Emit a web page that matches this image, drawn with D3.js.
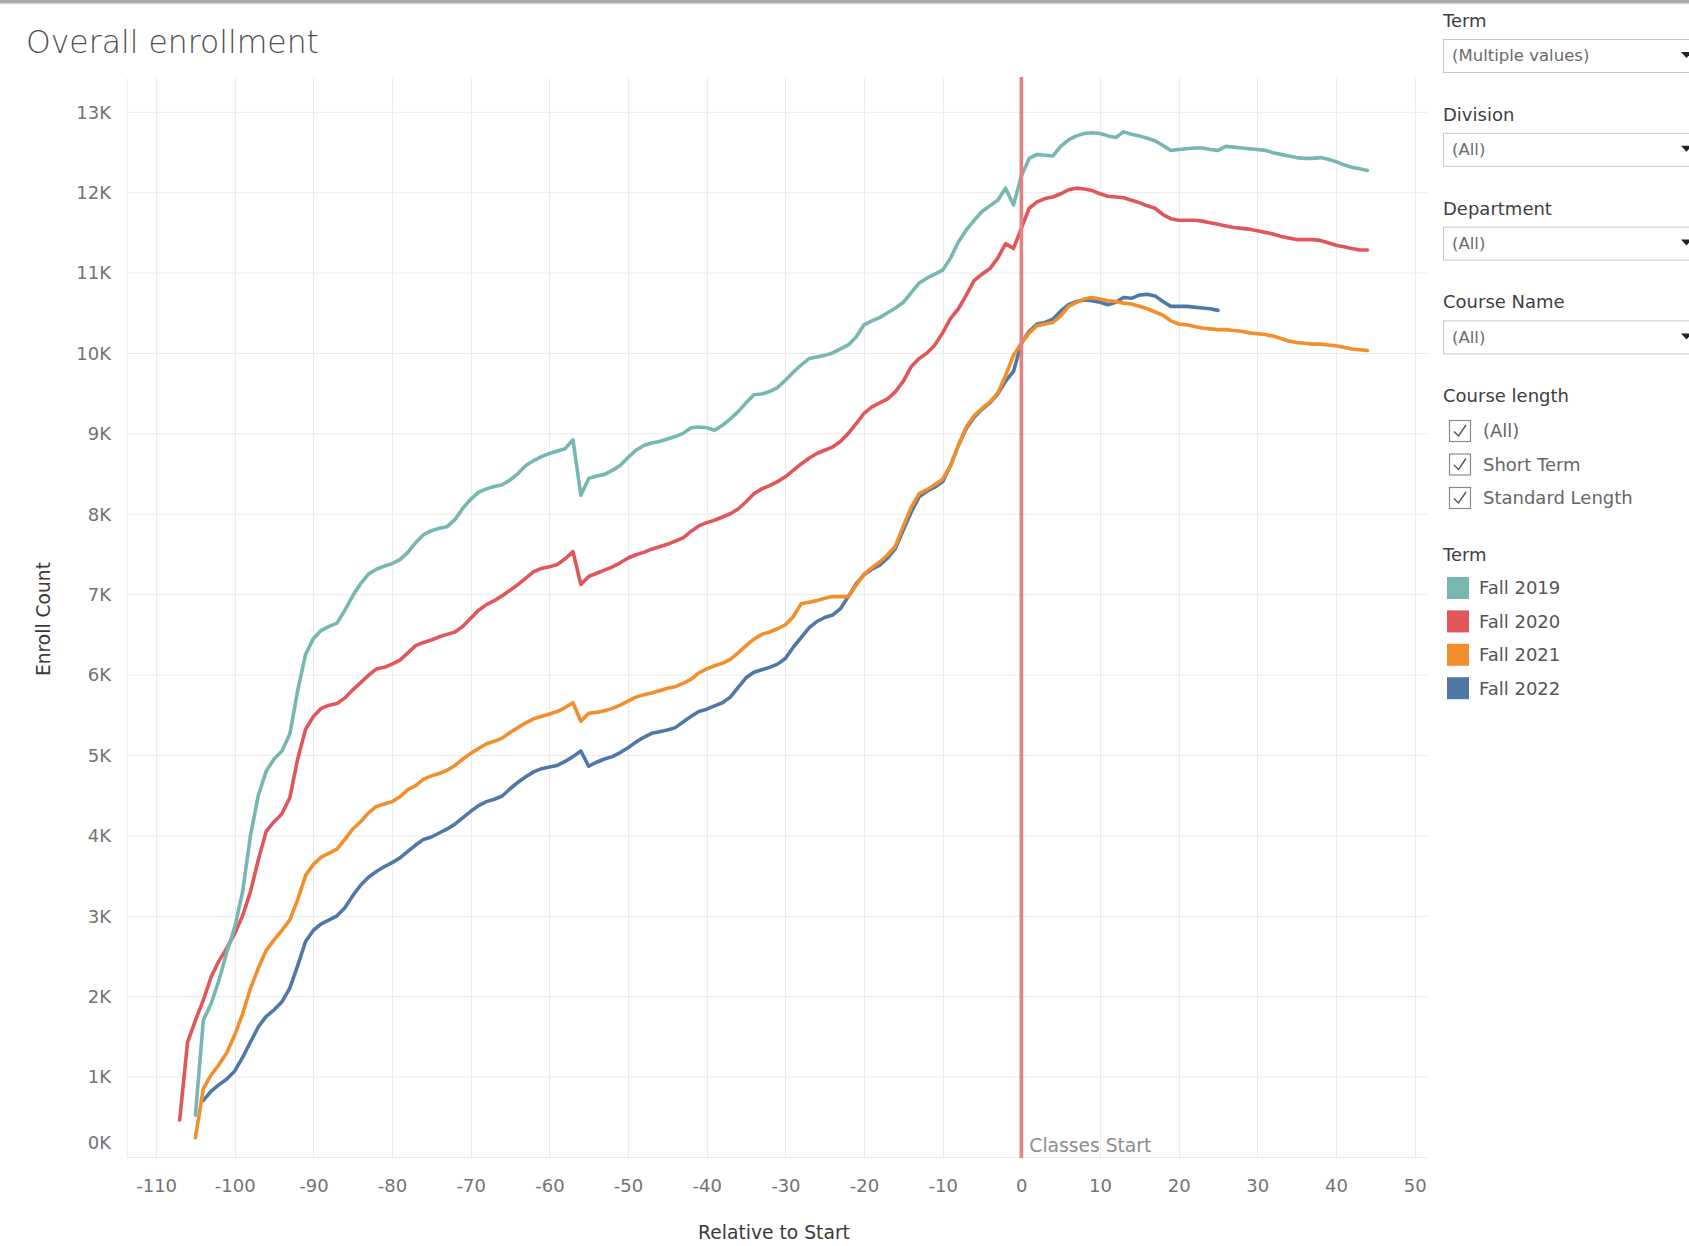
<!DOCTYPE html>
<html><head><meta charset="utf-8">
<script src="https://cdn.jsdelivr.net/npm/d3@7"></script>
<style>body{margin:0;background:#fff;} svg{display:block;font-family:"DejaVu Sans",sans-serif;}</style>
</head><body>
<svg id="c" width="1689" height="1246"></svg>
<script>
// ---------------- DATA ----------------
const xTicks = [-110,-100,-90,-80,-70,-60,-50,-40,-30,-20,-10,0,10,20,30,40,50];
const yTicks = [0,1,2,3,4,5,6,7,8,9,10,11,12,13]; // thousands
const termNames = ["Fall 2019","Fall 2020","Fall 2021","Fall 2022"];
const termColors = ["#76b7b2","#e15759","#f28e2b","#4e79a7"];

// Enroll count (thousands) per day relative to start, consecutive days from the start day
const startDay2019 = -105;
const fall2019 = [
 0.52,1.70,1.91,2.20,2.55,2.86,3.30,4.00,4.50,4.80,
 4.95,5.05,5.26,5.80,6.25,6.45,6.55,6.60,6.64,6.80,
 6.98,7.13,7.25,7.31,7.35,7.38,7.43,7.52,7.64,7.74,
 7.79,7.82,7.84,7.93,8.07,8.18,8.27,8.31,8.34,8.36,
 8.42,8.50,8.60,8.66,8.71,8.75,8.78,8.81,8.92,8.23,
 8.44,8.47,8.49,8.54,8.60,8.70,8.79,8.85,8.88,8.90,
 8.93,8.96,9.00,9.07,9.08,9.07,9.04,9.10,9.18,9.27,
 9.38,9.48,9.49,9.52,9.57,9.66,9.76,9.85,9.93,9.95,
 9.97,10.00,10.05,10.10,10.20,10.35,10.40,10.44,10.50,10.56,
 10.63,10.75,10.87,10.93,10.98,11.03,11.18,11.38,11.53,11.65,
 11.76,11.83,11.90,12.05,11.84,12.20,12.42,12.47,12.46,12.45,
 12.57,12.65,12.70,12.73,12.74,12.73,12.70,12.68,12.75,12.72,
 12.70,12.67,12.64,12.58,12.52,12.53,12.54,12.55,12.55,12.53,
 12.52,12.57,12.56,12.55,12.54,12.53,12.52,12.49,12.47,12.45,
 12.43,12.42,12.42,12.43,12.41,12.38,12.34,12.31,12.29,12.27
];
const startDay2020 = -107;
const fall2020 = [
 0.46,1.43,1.70,1.95,2.24,2.44,2.60,2.78,3.00,3.30,
 3.70,4.05,4.17,4.27,4.47,4.95,5.32,5.48,5.58,5.62,
 5.64,5.71,5.81,5.90,5.99,6.07,6.09,6.13,6.18,6.27,
 6.36,6.40,6.43,6.47,6.50,6.53,6.60,6.70,6.80,6.87,
 6.92,6.98,7.05,7.12,7.20,7.28,7.32,7.34,7.37,7.44,
 7.53,7.12,7.22,7.26,7.30,7.34,7.39,7.45,7.49,7.52,
 7.56,7.59,7.62,7.66,7.70,7.78,7.85,7.89,7.92,7.96,
 8.00,8.06,8.15,8.25,8.31,8.35,8.40,8.46,8.54,8.62,
 8.69,8.75,8.79,8.83,8.90,9.00,9.12,9.25,9.33,9.38,
 9.43,9.52,9.65,9.83,9.93,10.00,10.10,10.25,10.43,10.55,
 10.72,10.90,10.98,11.05,11.18,11.36,11.30,11.55,11.80,11.88,
 11.92,11.94,11.98,12.03,12.05,12.04,12.02,11.98,11.95,11.94,
 11.93,11.90,11.87,11.83,11.80,11.72,11.67,11.65,11.65,11.65,
 11.64,11.62,11.60,11.58,11.56,11.55,11.54,11.52,11.50,11.48,
 11.45,11.43,11.41,11.41,11.41,11.40,11.37,11.34,11.32,11.30,
 11.28,11.28
];
const startDay2021 = -105;
const fall2021 = [
 0.24,0.85,1.02,1.15,1.30,1.52,1.78,2.10,2.35,2.57,
 2.70,2.82,2.95,3.20,3.50,3.64,3.73,3.78,3.83,3.95,
 4.08,4.17,4.28,4.36,4.39,4.42,4.48,4.57,4.62,4.70,
 4.74,4.77,4.81,4.87,4.95,5.02,5.08,5.14,5.17,5.21,
 5.28,5.34,5.40,5.45,5.48,5.51,5.54,5.59,5.65,5.42,
 5.52,5.53,5.55,5.58,5.62,5.67,5.72,5.75,5.77,5.80,
 5.83,5.85,5.89,5.94,6.02,6.07,6.11,6.14,6.19,6.27,
 6.36,6.44,6.50,6.53,6.57,6.62,6.72,6.88,6.90,6.92,
 6.95,6.97,6.97,6.97,7.11,7.25,7.33,7.40,7.49,7.60,
 7.85,8.08,8.25,8.30,8.36,8.43,8.60,8.85,9.08,9.22,
 9.31,9.39,9.50,9.72,9.97,10.12,10.25,10.34,10.36,10.38,
 10.46,10.58,10.63,10.67,10.69,10.67,10.65,10.64,10.62,10.61,
 10.58,10.55,10.51,10.47,10.40,10.36,10.35,10.33,10.31,10.30,
 10.29,10.29,10.28,10.27,10.25,10.24,10.23,10.21,10.18,10.15,
 10.13,10.12,10.11,10.11,10.10,10.09,10.07,10.05,10.04,10.03
];
const startDay2022 = -104;
const fall2022 = [
 0.70,0.82,0.90,0.97,1.07,1.24,1.43,1.62,1.75,1.83,
 1.93,2.10,2.38,2.68,2.82,2.90,2.95,3.00,3.10,3.25,
 3.38,3.48,3.55,3.61,3.66,3.72,3.80,3.88,3.95,3.98,
 4.03,4.08,4.14,4.22,4.30,4.37,4.42,4.45,4.49,4.58,
 4.66,4.73,4.79,4.83,4.85,4.87,4.92,4.98,5.05,4.86,
 4.91,4.95,4.98,5.03,5.09,5.16,5.22,5.27,5.29,5.31,
 5.34,5.41,5.48,5.54,5.57,5.61,5.65,5.72,5.84,5.96,
 6.03,6.06,6.09,6.13,6.20,6.34,6.46,6.58,6.66,6.71,
 6.74,6.82,6.97,7.13,7.24,7.31,7.36,7.45,7.57,7.80,
 8.02,8.21,8.28,8.33,8.40,8.60,8.85,9.06,9.20,9.30,
 9.38,9.49,9.65,9.77,10.12,10.27,10.36,10.38,10.42,10.52,
 10.60,10.64,10.66,10.65,10.63,10.60,10.63,10.69,10.68,10.72,
 10.73,10.71,10.64,10.58,10.58,10.58,10.57,10.56,10.55,10.53
];

const filterLabels = ["Term","Division","Department","Course Name"];
const filterValues = ["(Multiple values)","(All)","(All)","(All)"];
const courseLengthTitle = "Course length";
const courseLengthOptions = ["(All)","Short Term","Standard Length"];
const legendTitle = "Term";
const refLineDay = 0;
const refLineLabel = "Classes Start";
const chartTitle = "Overall enrollment";
const xTitle = "Relative to Start";
const yTitle = "Enroll Count";

// ---------------- DRAW ----------------
const svg = d3.select("#c");
const W = 1689, H = 1246;
const plot = {left:127, right:1428, top:78, bottom:1157};

const x = d3.scaleLinear().domain([-113.7, 51.7]).range([plot.left, plot.right]);
const y = d3.scaleLinear().domain([0, 13.42]).range([plot.bottom, plot.top]);

function fit(sel, w){
  const n = sel.node(); const L = n.getComputedTextLength();
  const fs = parseFloat(sel.attr("font-size"));
  sel.attr("font-size", (fs*w/L).toFixed(2));
}

// top shadow bar
svg.append("rect").attr("x",0).attr("y",0).attr("width",W).attr("height",3).attr("fill","#a9a9a9");
svg.append("rect").attr("x",0).attr("y",3).attr("width",W).attr("height",1.5).attr("fill","#dadada");

// title
const t = svg.append("text").attr("x",26).attr("y",53).attr("font-size",31)
  .attr("fill","#505050").attr("font-weight",300).text(chartTitle);
fit(t, 293);

// grid
const grid = svg.append("g");
grid.selectAll(".hg").data(yTicks).join("line")
  .attr("x1",plot.left).attr("x2",plot.right)
  .attr("y1",d=>y(d)+0.5).attr("y2",d=>y(d)+0.5)
  .attr("stroke","#ebebeb").attr("stroke-width",1);
grid.selectAll(".vg").data(xTicks).join("line")
  .attr("x1",d=>Math.round(x(d))+0.5).attr("x2",d=>Math.round(x(d))+0.5)
  .attr("y1",plot.top).attr("y2",plot.bottom)
  .attr("stroke","#ebebeb").attr("stroke-width",1);
grid.append("line").attr("x1",plot.left+0.5).attr("x2",plot.left+0.5)
  .attr("y1",plot.top).attr("y2",plot.bottom).attr("stroke","#f0f0f0");

// y axis
const yAxis = svg.append("g").attr("transform",`translate(${plot.left-16},0)`)
  .call(d3.axisLeft(y).tickValues(yTicks).tickSize(0).tickPadding(0).tickFormat(d=>d+"K"));
yAxis.select(".domain").remove();
yAxis.selectAll("text").attr("font-size",18).attr("fill","#737373")
  .attr("font-family","DejaVu Sans").attr("dy","0.35em");
yAxis.selectAll(".tick").filter(d=>d===0).select("text").attr("dy","-0.5em");

// x axis
const xAxis = svg.append("g").attr("transform",`translate(0,${plot.bottom})`)
  .call(d3.axisBottom(x).tickValues(xTicks).tickSize(0).tickPadding(0).tickFormat(d=>String(d)));
xAxis.select(".domain").remove();
xAxis.selectAll("text").attr("font-size",18).attr("fill","#737373")
  .attr("font-family","DejaVu Sans").attr("dy","1.95em");

// axis titles
const xt = svg.append("text").attr("x",774).attr("y",1239).attr("text-anchor","middle")
  .attr("font-size",18).attr("fill","#3a3a3a").text(xTitle);
fit(xt, 152);
const yt = svg.append("text").attr("transform","translate(50,619) rotate(-90)")
  .attr("text-anchor","middle").attr("font-size",18).attr("fill","#3a3a3a").text(yTitle);
fit(yt, 114);

// lines
const series = [
  {name:termNames[3], color:termColors[3], start:startDay2022, vals:fall2022},
  {name:termNames[2], color:termColors[2], start:startDay2021, vals:fall2021},
  {name:termNames[1], color:termColors[1], start:startDay2020, vals:fall2020},
  {name:termNames[0], color:termColors[0], start:startDay2019, vals:fall2019}
];
const line = d3.line().x(d=>x(d[0])).y(d=>y(d[1]));
svg.append("g").selectAll("path").data(series).join("path")
  .attr("d", s => line(s.vals.map((v,i)=>[s.start+i, v])))
  .attr("fill","none").attr("stroke",s=>s.color).attr("stroke-width",3.6)
  .attr("stroke-linejoin","round").attr("stroke-linecap","round");

// reference line
svg.append("line").attr("x1",x(refLineDay)).attr("x2",x(refLineDay))
  .attr("y1",plot.top-1).attr("y2",plot.bottom+1)
  .attr("stroke","#ea7f81").attr("stroke-width",3.6);
const rl = svg.append("text").attr("x",x(refLineDay)+8).attr("y",plot.bottom-5)
  .attr("font-size",18).attr("fill","#8c8c8c").text(refLineLabel);
fit(rl, 122);

// ---------- right panel ----------
const panelX = 1443;
const panel = svg.append("g");
filterLabels.forEach((lab,i)=>{
  const cy = 20.5 + i*93.8;
  panel.append("text").attr("x",panelX).attr("y",cy).attr("dy","0.36em")
    .attr("font-size",18).attr("fill","#404040").text(lab);
  const by = 39 + i*93.8;
  panel.append("rect").attr("x",panelX+0.5).attr("y",by+0.5).attr("width",300).attr("height",33)
    .attr("fill","#fff").attr("stroke","#c6c6c6");
  panel.append("text").attr("x",panelX+9).attr("y",by+16.5).attr("dy","0.36em")
    .attr("font-size",16.5).attr("fill","#6a6a6a").text(filterValues[i]);
  panel.append("path").attr("d",`M1681,${by+13}L1692,${by+13}L1686.5,${by+19}Z`).attr("fill","#222");
});

panel.append("text").attr("x",panelX).attr("y",396).attr("dy","0.36em")
  .attr("font-size",18).attr("fill","#404040").text(courseLengthTitle);
courseLengthOptions.forEach((o,i)=>{
  const cy = 431 + i*33.5;
  panel.append("rect").attr("x",1449.5).attr("y",cy-10.5).attr("width",21).attr("height",21)
    .attr("fill","#fff").attr("stroke","#8a8a8a").attr("stroke-width",1.2);
  panel.append("path").attr("d",`M${1454},${cy+0.5}L${1458.5},${cy+5}L${1466},${cy-6}`)
    .attr("fill","none").attr("stroke","#555").attr("stroke-width",1.4);
  panel.append("text").attr("x",1483).attr("y",cy).attr("dy","0.36em")
    .attr("font-size",18).attr("fill","#666").text(o);
});

panel.append("text").attr("x",panelX).attr("y",555).attr("dy","0.36em")
  .attr("font-size",18).attr("fill","#404040").text(legendTitle);
termNames.forEach((n,i)=>{
  const cy = 588 + i*33.4;
  panel.append("rect").attr("x",1447).attr("y",cy-11).attr("width",22).attr("height",22)
    .attr("fill",termColors[i]);
  panel.append("text").attr("x",1479).attr("y",cy).attr("dy","0.36em")
    .attr("font-size",18).attr("fill","#555").text(n);
});
</script>
</body></html>
